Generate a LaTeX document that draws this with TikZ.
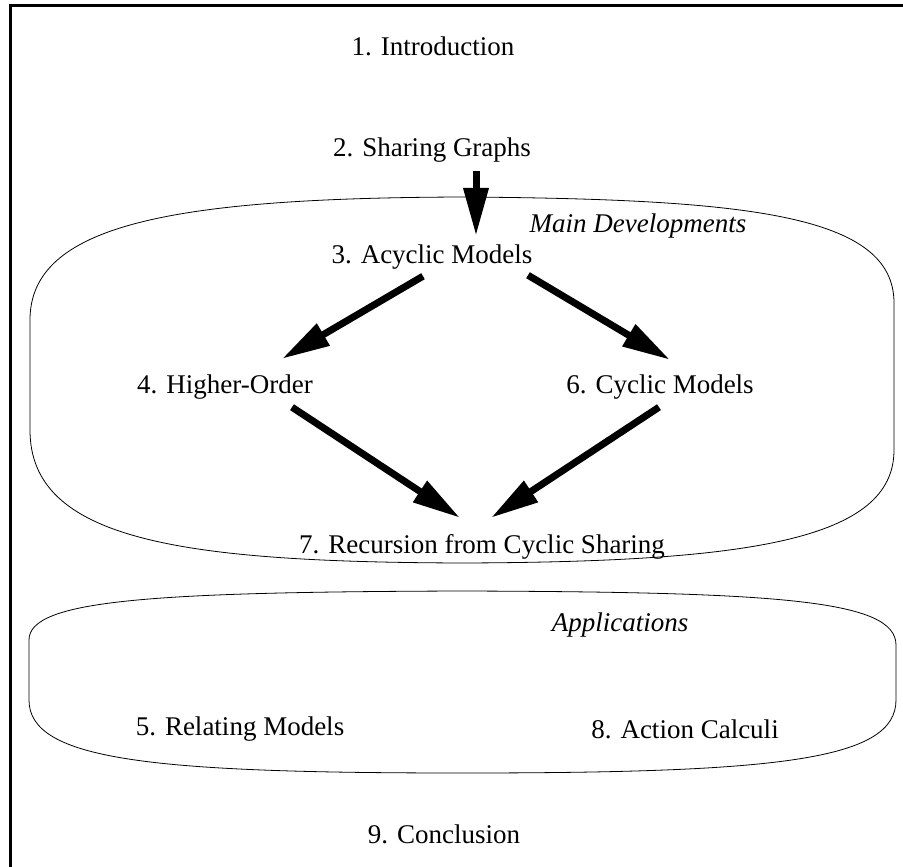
\documentclass[tikz,border=0pt]{standalone}
\usepackage{fontspec}
\setmainfont{Liberation Serif}
\usetikzlibrary{arrows.meta,calc}
\begin{document}
\begin{tikzpicture}[x=1pt,y=-1pt,
  lbl/.style={anchor=base, inner sep=0pt, text height=19pt, text depth=6pt,
              font=\fontsize{27}{32}\selectfont},
  hint/.style={lbl, font=\fontsize{27}{32}\selectfont\itshape},
  flow/.style={line width=7pt, -{Triangle[length=48pt,width=24pt]}},
  region/.style={line width=0.8pt},
  frame/.style={line width=3pt}]

\useasboundingbox (0,0) rectangle (903,867);

% page frame (left and top edges)
\draw[frame] (10.5,872) -- (10.5,6) -- (908,6);

% region: main developments
\draw[region] (30,320)
  .. controls (30,225) and (170,198) .. (462,197)
  .. controls (750,199) and (894,215) .. (894,303)
  -- (894,450)
  .. controls (894,540) and (750,562) .. (462,563)
  .. controls (180,562) and (30,540) .. (30,430)
  -- cycle;

% region: applications
\draw[region] (29,640)
  .. controls (29,600) and (150,592) .. (462,591)
  .. controls (780,592) and (896,600) .. (896,645)
  -- (896,700)
  .. controls (896,760) and (780,773) .. (462,773)
  .. controls (150,773) and (29,760) .. (29,700)
  -- cycle;

% chapters
\node[lbl]  (intro)    at (433,56)  {1. Introduction};
\node[lbl]  (sharing)  at (432,157) {2. Sharing Graphs};
\node[hint] (maindev)  at (638,232) {Main Developments};
\node[lbl]  (acyclic)  at (432,263) {3. Acyclic Models};
\node[lbl]  (higher)   at (225,393) {4. Higher-Order};
\node[lbl]  (cyclic)   at (660,393) {6. Cyclic Models};
\node[lbl]  (rec)      at (482,553) {7. Recursion from Cyclic Sharing};
\node[hint] (apps)     at (620,631) {Applications};
\node[lbl]  (relating) at (240,735) {5. Relating Models};
\node[lbl]  (action)   at (685,738) {8. Action Calculi};
\node[lbl]  (concl)    at (444,843) {9. Conclusion};

% dependencies
\draw[flow] ($(sharing.south)+(44,8)$) -- ($(acyclic.north)+(44,-8)$);
\draw[flow] ($(acyclic.south)+(-9,7)$) -- ($(higher.north)+(57,-15)$);
\draw[flow] ($(acyclic.south)+(96,6)$) -- ($(cyclic.north)+(10,-14)$);
\draw[flow] ($(higher.south)+(67,8)$) -- ($(rec.north)+(-22,-16)$);
\draw[flow] ($(cyclic.south)+(-1,8)$) -- ($(rec.north)+(9,-16)$);
\end{tikzpicture}
\end{document}
